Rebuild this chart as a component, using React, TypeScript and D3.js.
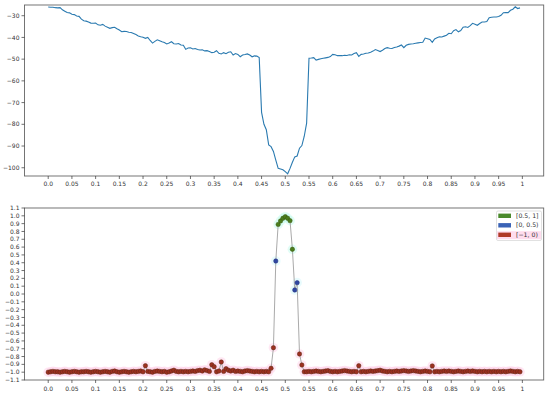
import React from 'react';
import * as d3 from 'd3';

// Top panel: signal level sampled every 0.005 from 0 to 0.995
const topValues = [
  -26.0, -26.1, -26.1, -26.3, -26.4, -26.3, -27.3, -27.9, -28.5, -28.7,
  -29.3, -29.5, -30.1, -30.3, -31.6, -32.3, -32.5, -32.9, -33.4, -33.5,
  -33.4, -34.2, -34.4, -34.0, -34.8, -35.3, -35.8, -35.5, -35.3, -36.0,
  -36.6, -37.4, -37.2, -37.3, -37.6, -37.7, -38.2, -38.7, -39.3, -39.7,
  -39.9, -40.4, -40.0, -41.4, -42.6, -41.8, -41.1, -41.5, -42.0, -42.3,
  -43.0, -42.6, -42.0, -42.9, -43.0, -42.8, -43.5, -43.6, -45.5, -44.9,
  -44.8, -45.3, -45.1, -45.6, -45.8, -45.7, -46.2, -46.1, -46.5, -47.0,
  -46.8, -46.1, -47.3, -47.6, -47.0, -47.5, -46.8, -46.6, -48.1, -47.4,
  -47.8, -48.9, -48.1, -47.9, -47.6, -48.1, -48.9, -48.5, -48.6, -49.3,
  -74.5, -80.0, -82.5, -89.5, -90.3, -92.5, -96.5, -100.3, -100.6, -100.9,
  -101.8, -102.8, -100.3, -97.5, -95.0, -94.6, -91.0, -89.8, -85.5, -79.5,
  -49.6, -49.5, -49.3, -50.4, -50.1, -49.8, -49.6, -49.4, -49.2, -48.8,
  -47.8, -48.0, -48.4, -48.3, -48.4, -48.2, -48.3, -48.0, -48.1, -47.4,
  -47.0, -48.7, -47.8, -47.6, -47.3, -47.2, -46.8, -46.3, -45.6, -46.0,
  -46.5, -45.9, -45.1, -44.7, -45.0, -45.1, -44.6, -44.4, -44.0, -43.5,
  -44.7, -43.6, -43.2, -43.0, -42.9, -42.7, -42.5, -42.3, -42.2, -40.3,
  -40.6, -40.9, -42.3, -40.7, -40.2, -39.7, -39.8, -39.4, -39.0, -38.1,
  -38.3, -36.9, -36.4, -37.4, -36.8, -35.3, -35.1, -35.4, -34.6, -33.5,
  -33.9, -34.4, -33.6, -32.9, -32.9, -32.7, -30.9, -30.7, -30.6, -30.6,
  -30.4, -29.8, -28.6, -28.5, -28.6, -27.5, -27.0, -25.9, -26.7, -26.4,
];

// Bottom panel: normalised score, same sampling
const bottomValues = [
  -1.0, -0.995, -0.99, -0.995, -0.995, -1.0, -0.995, -0.99, -0.995, -1.0,
  -0.995, -0.99, -0.995, -1.0, -0.995, -0.995, -0.99, -0.995, -1.0, -0.995,
  -0.99, -0.995, -1.0, -0.995, -0.99, -0.995, -1.0, -0.99, -0.985, -0.995,
  -1.0, -0.995, -0.99, -0.995, -1.0, -0.995, -0.99, -0.995, -0.99, -0.985,
  -0.995, -0.917, -0.99, -0.995, -1.0, -0.99, -0.985, -0.99, -0.995, -0.99,
  -1.0, -0.995, -0.985, -0.975, -0.99, -0.995, -0.99, -0.995, -0.99, -0.995,
  -0.99, -0.985, -0.99, -0.98, -0.975, -0.985, -0.97, -0.98, -0.99, -0.905,
  -0.93, -0.995, -0.985, -0.87, -0.99, -0.955, -0.975, -0.985, -0.975, -0.99,
  -0.985, -0.99, -0.995, -0.985, -0.98, -0.985, -0.99, -0.995, -0.99, -0.995,
  -0.99, -0.995, -0.99, -0.995, -0.95, -0.687, 0.422, 0.89, 0.934, 0.968,
  0.989, 0.968, 0.938, 0.572, 0.051, 0.145, -0.767, -0.908, -0.995, -0.995,
  -0.99, -0.995, -0.99, -0.985, -0.99, -0.995, -0.99, -0.985, -0.98, -0.99,
  -0.995, -0.99, -0.995, -0.99, -0.985, -0.98, -0.985, -0.99, -0.995, -0.99,
  -0.995, -0.917, -0.995, -0.99, -0.995, -0.99, -0.985, -0.99, -0.985, -0.98,
  -0.975, -0.985, -0.99, -0.995, -0.99, -0.995, -0.99, -0.985, -0.99, -0.985,
  -0.98, -0.985, -0.99, -0.985, -0.98, -0.985, -0.99, -0.995, -0.99, -0.985,
  -0.99, -0.995, -0.92, -0.995, -0.99, -0.995, -0.99, -0.985, -0.99, -0.985,
  -0.99, -0.995, -0.99, -0.985, -0.99, -0.995, -0.99, -0.985, -0.99, -0.985,
  -0.99, -0.995, -0.99, -0.995, -0.99, -0.995, -0.99, -0.995, -0.99, -0.995,
  -0.99, -0.995, -0.99, -0.995, -0.99, -0.985, -0.99, -0.995, -0.99, -0.995,
];

const xTicks = [0, 0.05, 0.1, 0.15, 0.2, 0.25, 0.3, 0.35, 0.4, 0.45, 0.5, 0.55, 0.6, 0.65, 0.7, 0.75, 0.8, 0.85, 0.9, 0.95, 1];
const xTickLabels = ["0.0", "0.05", "0.1", "0.15", "0.2", "0.25", "0.3", "0.35", "0.4", "0.45", "0.5", "0.55", "0.6", "0.65", "0.7", "0.75", "0.8", "0.85", "0.9", "0.95", "1"];
const topYTicks = [-30, -40, -50, -60, -70, -80, -90, -100];
const bottomYTicks = [1.1, 1.0, 0.9, 0.8, 0.7, 0.6, 0.5, 0.4, 0.3, 0.2, 0.1, 0.0, -0.1, -0.2, -0.3, -0.4, -0.5, -0.6, -0.7, -0.8, -0.9, -1.0, -1.1];

const legendLabels = ["[0.5, 1]", "[0, 0.5)", "[\u22121, 0)"];
const legendColors = ["#4b8a2c", "#3a63b6", "#b03a28"];

const FONT = "DejaVu Sans, sans-serif";
const FS = 6;
const minus = (s: string) => s.replace('-', '\u2212');

function category(v: number) {
  if (v >= 0.5) return 0;
  if (v >= 0) return 1;
  return 2;
}
const dotFill = ["#4a7d1c", "#2f46a0", "#9c3020"];
const dotStroke = ["#3a5a14", "#223380", "#5e2814"];
const haloFill = ["#c8fbef", "#d6f7fb", "#ffd3ea"];

export default function App() {
  const W = 550, H = 396;
  const L = 24.5, R = 543.7;
  const x = d3.scaleLinear().domain([-0.05, 1.045]).range([L, R]);
  const yTop = d3.scaleLinear().domain([-103.8, -25.07]).range([176, 5]);
  const yBot = d3.scaleLinear().domain([-1.1, 1.1]).range([380, 208]);
  const xs = d3.range(topValues.length).map(i => i / 200);

  const topLine = d3.line<number>().x((_, i) => x(xs[i])).y(d => yTop(d))(topValues) || '';
  const botLine = d3.line<number>().x((_, i) => x(xs[i])).y(d => yBot(d))(bottomValues) || '';

  const spine = "#666";

  const xAxis = (yBase: number, labelY: number) => (
    <g>
      {xTicks.map((t, i) => (
        <g key={i}>
          <line x1={x(t)} x2={x(t)} y1={yBase} y2={yBase + 3} stroke="#333" strokeWidth={0.7} />
          <text x={x(t)} y={labelY} fontSize={FS} fontFamily={FONT} fill="#333" textAnchor="middle">{xTickLabels[i]}</text>
        </g>
      ))}
    </g>
  );

  return (
    <svg width={W} height={H} style={{ position: 'absolute', left: 0, top: 0, background: '#fff' }}>
      {/* ---------- top panel ---------- */}
      <rect x={L} y={5} width={R - L} height={171} fill="#fff" stroke={spine} strokeWidth={0.9} />
      <path d={topLine} fill="none" stroke="#2a7ab0" strokeWidth={1.1} />
      {topYTicks.map(t => (
        <g key={t}>
          <line x1={L - 3} x2={L} y1={yTop(t)} y2={yTop(t)} stroke="#333" strokeWidth={0.7} />
          <text x={L - 5} y={yTop(t) + 2.1} fontSize={FS} fontFamily={FONT} fill="#333" textAnchor="end">{minus(String(t))}</text>
        </g>
      ))}
      {xAxis(176, 185.5)}

      {/* ---------- bottom panel ---------- */}
      <rect x={L} y={208} width={R - L} height={172} fill="#fff" stroke={spine} strokeWidth={0.9} />
      {bottomValues.map((v, i) => (
        <circle key={'h' + i} cx={x(xs[i])} cy={yBot(v)} r={4.8} fill={haloFill[category(v)]} opacity={0.55} />
      ))}
      <path d={botLine} fill="none" stroke="#aaaaaa" strokeWidth={1} />
      {bottomValues.map((v, i) => {
        const c = category(v);
        return <circle key={'d' + i} cx={x(xs[i])} cy={yBot(v)} r={2.2} fill={dotFill[c]} stroke={dotStroke[c]} strokeWidth={0.5} />;
      })}
      {bottomYTicks.map(t => (
        <g key={t}>
          <line x1={L - 3} x2={L} y1={yBot(t)} y2={yBot(t)} stroke="#333" strokeWidth={0.7} />
          <text x={L - 5} y={yBot(t) + 2.1} fontSize={FS} fontFamily={FONT} fill="#333" textAnchor="end">{minus(t.toFixed(1))}</text>
        </g>
      ))}
      {xAxis(380, 390.5)}

      {/* legend */}
      <g>
        <rect x={496.5} y={211} width={45} height={29.5} rx={1.5} fill="#fff" stroke="#d0d0d0" strokeWidth={0.7} opacity={0.9} />
        <rect x={497} y={231.2} width={44} height={8} fill="#ffdcee" />
        {legendLabels.map((lab, i) => (
          <g key={lab}>
            <rect x={498.3} y={213.6 + i * 9.5} width={12.7} height={4.4} fill={legendColors[i]} />
            <text x={516} y={217.9 + i * 9.5} fontSize={6.2} fontFamily={FONT} fill="#333">{lab}</text>
          </g>
        ))}
      </g>
    </svg>
  );
}
